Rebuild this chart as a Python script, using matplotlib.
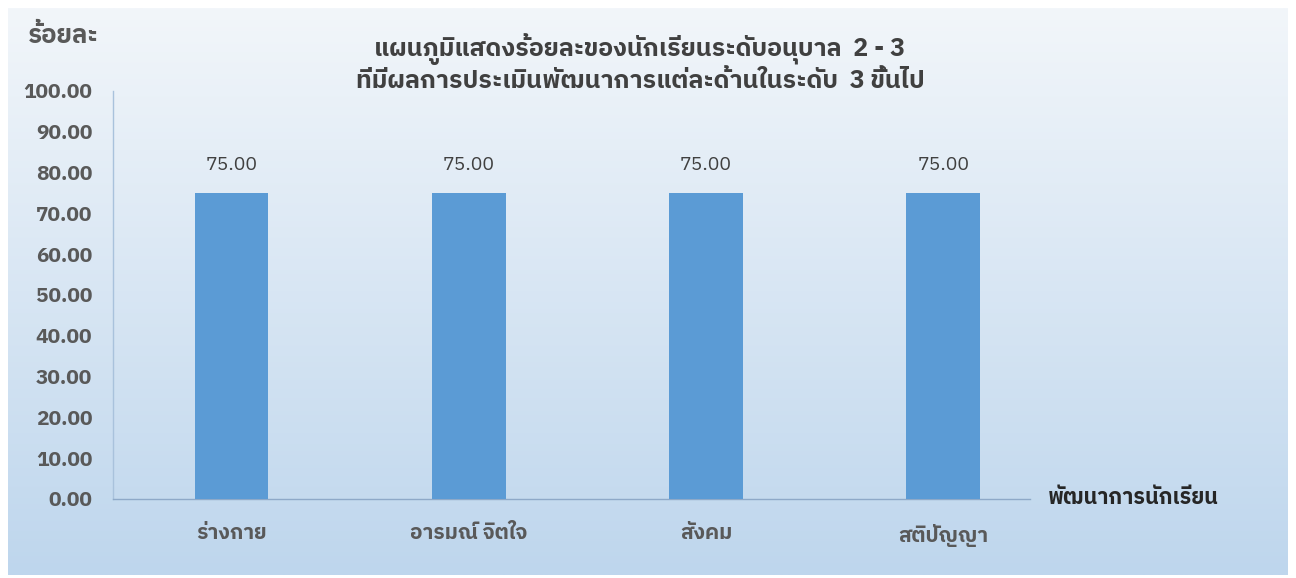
import numpy as np
import matplotlib
matplotlib.use("Agg")
import matplotlib.pyplot as plt
from matplotlib import font_manager
from matplotlib.ft2font import FT2Font

categories = ["ร่างกาย", "อารมณ์ จิตใจ", "สังคม", "สติปัญญา"]
values = [75.00, 75.00, 75.00, 75.00]
yticks = [0, 10, 20, 30, 40, 50, 60, 70, 80, 90, 100]
title_text = "แผนภูมิแสดงร้อยละของนักเรียนระดับอนุบาล  2 - 3\nที่มีผลการประเมินพัฒนาการแต่ละด้านในระดับ  3 ขึ้นไป"
ylabel_text = "ร้อยละ"
xlabel_text = "พัฒนาการนักเรียน"

# find a font with Thai glyphs
thai_font = None
for f in font_manager.fontManager.ttflist:
    try:
        ft = FT2Font(f.fname)
        if ft.get_char_index(ord("ก")) != 0 and ft.get_char_index(ord("0")) != 0:
            thai_font = f.name
            if "Thai" in f.name and "Looped" not in f.name:
                break
    except Exception:
        pass
fams = ([thai_font] if thai_font else []) + ["DejaVu Sans"]
plt.rcParams["font.family"] = fams

W, H = 1296, 578
fig = plt.figure(figsize=(W / 100, H / 100), dpi=100)
fig.patch.set_facecolor("white")

# background gradient panel
bg = fig.add_axes([8 / W, 3 / H, 1280 / W, 567 / H])
top = np.array([242, 246, 250]) / 255
bot = np.array([190, 214, 237]) / 255
t = np.linspace(0, 1, 256)[:, None]
grad = top[None, :] * (1 - t) + bot[None, :] * t
grad = np.repeat(grad[:, None, :], 2, axis=1)
bg.imshow(grad, aspect="auto", extent=[0, 1, 0, 1], origin="upper")
bg.set_axis_off()

left, right = 113, 1030
bottom_px, top_px = 499, 91
ax = fig.add_axes([left / W, 1 - bottom_px / H, (right - left) / W, (bottom_px - top_px) / H])
ax.patch.set_alpha(0)
x = np.arange(len(categories))
bars = ax.bar(x, values, width=0.31, color="#5B9BD5", zorder=3)
ax.set_xlim(-0.5, 3.366)
ax.set_ylim(0, 100)
ax.set_yticks(yticks)
ax.set_yticklabels([f"{v:.2f}" for v in yticks], fontsize=15, fontweight="bold", color="#595959")
ax.set_xticks(x)
ax.set_xticklabels(categories, fontsize=15, fontweight="bold", color="#595959")
ax.tick_params(axis="y", length=0, pad=15)
ax.tick_params(axis="x", length=0, pad=18)
for s in ["top", "right"]:
    ax.spines[s].set_visible(False)
ax.spines["left"].set_color("#A9C2DC")
ax.spines["bottom"].set_color("#8EA9C8")
ax.spines["left"].set_linewidth(1.0)
ax.spines["bottom"].set_linewidth(1.0)

for xi, v in zip(x, values):
    ax.annotate(f"{v:.2f}", (xi, v), xytext=(0, 14), textcoords="offset points",
                ha="center", va="bottom", fontsize=14, color="#404040")

fig.text(640 / W, 1 - 63 / H, title_text, ha="center", va="center", fontsize=18,
         fontweight="bold", color="#404040", linespacing=1.2)
fig.text(28 / W, 1 - 36 / H, ylabel_text, ha="left", va="center", fontsize=18.5,
         fontweight="bold", color="#595959")
fig.text(1048 / W, 1 - 497 / H, xlabel_text, ha="left", va="center", fontsize=15.5,
         fontweight="bold", color="#262626")

fig.savefig("out.png", dpi=100)
